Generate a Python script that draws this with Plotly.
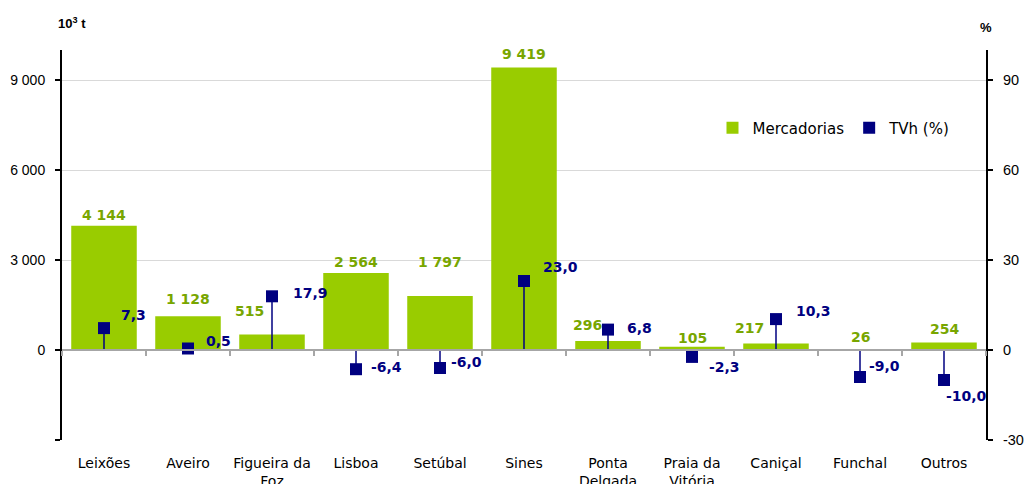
import plotly.graph_objects as go

categories = ["Leixões", "Aveiro", "Figueira da<br>Foz", "Lisboa", "Setúbal", "Sines",
              "Ponta<br>Delgada", "Praia da<br>Vitória", "Caniçal", "Funchal", "Outros"]
mercadorias = [4144, 1128, 515, 2564, 1797, 9419, 296, 105, 217, 26, 254]
tvh = [7.3, 0.5, 17.9, -6.4, -6.0, 23.0, 6.8, -2.3, 10.3, -9.0, -10.0]
left_ticks = [-3000, 0, 3000, 6000, 9000]
left_ticktext = ["", "0", "3 000", "6 000", "9 000"]
right_ticks = [-30, 0, 30, 60, 90]
right_ticktext = ["-30", "0", "30", "60", "90"]

# label placement (pixel offsets, style only)
bar_label_dx = [0, 0, -23, 0, 0, 0, -21, 0, -27, 0, 0]
bar_label_dy = [11, 17, 24, 11, 34, 13, 16, 9, 15, 12, 13]
tvh_label_dx = [15, 16, 19, 13, 9, 17, 17, 15, 18, 7, 0]
tvh_label_dy = [13, 8, 3, 2, 6, 14, 2, -10, 8, 11, -16]

GREEN = "#99CC00"
GREEN_TXT = "#78A600"
NAVY = "#000080"
LABEL_FONT = "DejaVu Sans"

def fmt_thousands(v):
    return f"{v:,}".replace(",", " ")

def fmt_pct(v):
    return f"{v:.1f}".replace(".", ",")

fig = go.Figure()
fig.add_trace(go.Bar(
    x=categories, y=mercadorias, name="Mercadorias",
    marker=dict(color=GREEN, line=dict(width=0)),
    xaxis="x", yaxis="y", hoverinfo="x+y",
))
fig.add_trace(go.Scatter(
    x=categories, y=tvh, name="TVh (%)", mode="markers",
    marker=dict(symbol="square", size=12, color=NAVY),
    error_y=dict(type="data", symmetric=False,
                 array=[(-v if v < 0 else 0) for v in tvh],
                 arrayminus=[(v if v > 0 else 0) for v in tvh],
                 color=NAVY, thickness=1.5, width=0),
    cliponaxis=False, xaxis="x2", yaxis="y2",
))

annotations = []
for c, v, dx, dy in zip(categories, mercadorias, bar_label_dx, bar_label_dy):
    annotations.append(dict(
        x=c, y=v, xref="x", yref="y", text=f"<b>{fmt_thousands(v)}</b>",
        showarrow=False, xanchor="center", yanchor="middle", xshift=dx, yshift=dy,
        font=dict(family=LABEL_FONT, size=14, color=GREEN_TXT)))
for c, v, dx, dy in zip(categories, tvh, tvh_label_dx, tvh_label_dy):
    annotations.append(dict(
        x=c, y=v, xref="x2", yref="y2", text=f"<b>{fmt_pct(v)}</b>",
        showarrow=False, xanchor="left", yanchor="middle", xshift=dx, yshift=dy,
        font=dict(family=LABEL_FONT, size=14, color=NAVY)))
annotations += [
    dict(text="<b>10<sup>3</sup> t</b>", xref="paper", yref="paper", x=-0.006, y=1.0,
         xanchor="left", yanchor="middle", yshift=27, showarrow=False,
         font=dict(family="Liberation Sans, Arial", size=13)),
    dict(text="<b>%</b>", xref="paper", yref="paper", x=1.0, y=1.0,
         xanchor="center", yanchor="middle", yshift=23, showarrow=False,
         font=dict(family="Liberation Sans, Arial", size=13)),
]

fig.update_layout(
    width=1024, height=484,
    margin=dict(l=62, r=38, t=50, b=44, autoexpand=False),
    paper_bgcolor="white", plot_bgcolor="white",
    bargap=0.22,
    font=dict(family="Liberation Sans, Arial", size=13, color="black"),
    showlegend=True,
    legend=dict(orientation="h", x=0.704, y=0.80, xanchor="left", yanchor="middle",
                font=dict(family=LABEL_FONT, size=15, color="black"),
                bgcolor="rgba(0,0,0,0)", itemwidth=30),
    xaxis=dict(type="category", range=[-0.5, 10.5], showline=False, showgrid=False,
               ticks="outside", ticklen=10, tickcolor="rgba(0,0,0,0)",
               tickfont=dict(family=LABEL_FONT, size=14, color="black"),
               anchor="y", automargin=False),
    xaxis2=dict(type="category", range=[-0.5, 10.5], overlaying="x", anchor="free",
                position=3000 / 13000, showline=True, linecolor="#A6A6A6", linewidth=2,
                ticks="outside", tickson="boundaries", ticklen=5, tickcolor="#A6A6A6",
                tickwidth=1.5, showticklabels=False, showgrid=False, zeroline=False,
                automargin=False),
    yaxis=dict(range=[-3000, 10000], tickvals=left_ticks, ticktext=left_ticktext,
               showgrid=True, gridcolor="#D9D9D9", gridwidth=1, zeroline=False,
               showline=True, linecolor="black", linewidth=2,
               ticks="outside", ticklen=5, tickcolor="black", tickwidth=1.5,
               ticklabelstandoff=7,
               tickfont=dict(family="Liberation Sans, Arial", size=14), automargin=False),
    yaxis2=dict(range=[-30, 100], tickvals=right_ticks, ticktext=right_ticktext,
                overlaying="y", side="right", anchor="x", showgrid=False, zeroline=False,
                showline=True, linecolor="black", linewidth=2,
                ticks="outside", ticklen=5, tickcolor="black", tickwidth=1.5,
                ticklabelstandoff=7,
                tickfont=dict(family="Liberation Sans, Arial", size=14.5), automargin=False),
    annotations=annotations,
)

fig.write_html("out.html", config={"displayModeBar": False},
               post_script="document.body.style.margin='0';document.body.style.overflow='hidden';")
